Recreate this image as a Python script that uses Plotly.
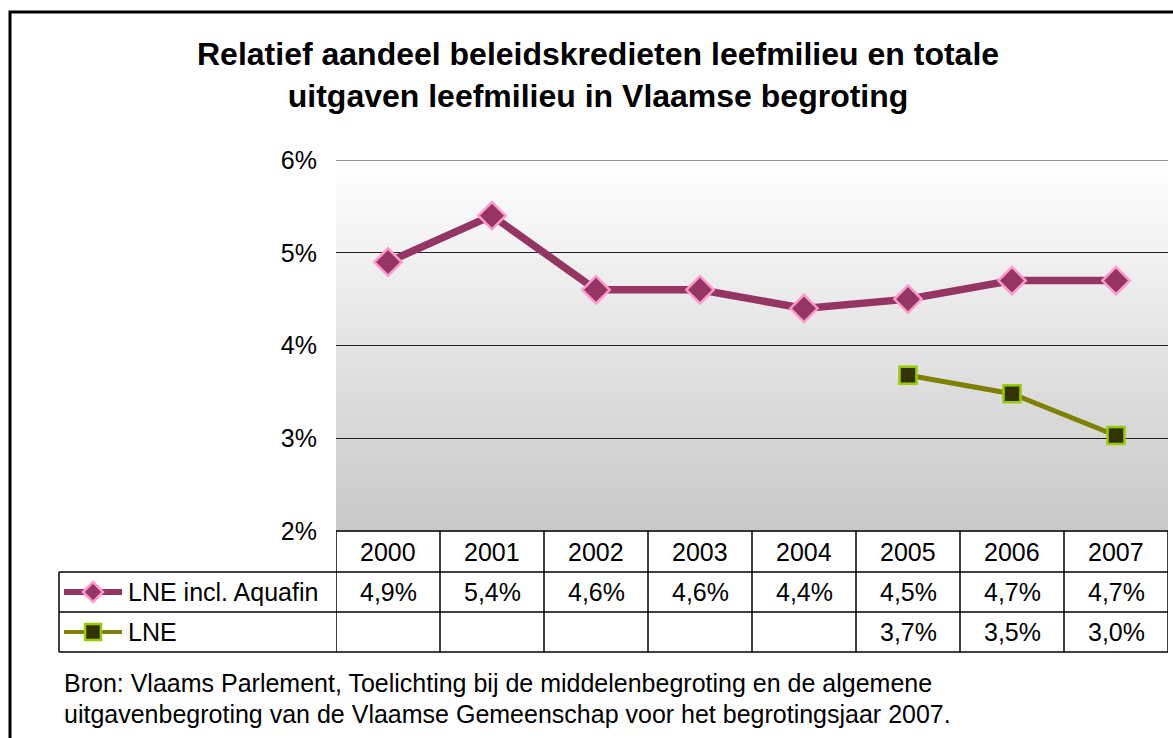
import plotly.graph_objects as go

# ---- data ----
years = ["2000", "2001", "2002", "2003", "2004", "2005", "2006", "2007"]
lne_aquafin = [4.9, 5.4, 4.6, 4.6, 4.4, 4.5, 4.7, 4.7]
lne = [None, None, None, None, None, 3.68, 3.48, 3.03]
series_names = ["LNE incl. Aquafin", "LNE"]
y_ticks = [2, 3, 4, 5, 6]
title_text = "Relatief aandeel beleidskredieten leefmilieu en totale<br>uitgaven leefmilieu in Vlaamse begroting"
source_lines = [
    "Bron: Vlaams Parlement, Toelichting bij de middelenbegroting en de algemene",
    "uitgavenbegroting van de Vlaamse Gemeenschap voor het begrotingsjaar 2007.",
]

W, H = 1173, 738
FONT = "Liberation Sans, Arial, sans-serif"


def px(x):
    return x / W


def py(y):
    return 1 - y / H


PL, PR, PT, PB = 336, 1168, 160, 531
ROW = [531, 572, 612, 652]
LEG_X = 59

PURPLE = "#953563"
PINK = "#ff99cc"
OLIVE = "#808000"
DARK = "#333300"
LIME = "#99cc00"


def fmt(v):
    return "" if v is None else f"{v:.1f}%".replace(".", ",")


fig = go.Figure()
fig.add_trace(go.Scatter(
    x=years, y=lne_aquafin, mode="lines+markers", name=series_names[0],
    line=dict(color=PURPLE, width=7.5),
    marker=dict(symbol="diamond", size=21, color=PURPLE, line=dict(color=PINK, width=2.5)),
    showlegend=False, cliponaxis=False, hoverinfo="skip",
))
fig.add_trace(go.Scatter(
    x=years, y=lne, mode="lines+markers", name=series_names[1],
    line=dict(color=OLIVE, width=5),
    marker=dict(symbol="square", size=17, color=DARK, line=dict(color=LIME, width=2.5)),
    showlegend=False, cliponaxis=False, connectgaps=False, hoverinfo="skip",
))

shapes = []
# gradient plot background
N = 90
c0, c1 = 255, 200
for i in range(N):
    t = (i + 0.5) / N
    c = round(c0 + (c1 - c0) * t)
    shapes.append(dict(type="rect", xref="x domain", yref="y domain",
                       x0=0, x1=1, y0=1 - i / N, y1=1 - (i + 1) / N - 0.002,
                       fillcolor=f"rgb({c},{c},{c})", line=dict(width=0), layer="below"))
# top gridline (6%)
shapes.append(dict(type="line", xref="x domain", yref="y", x0=0, x1=1,
                   y0=y_ticks[-1], y1=y_ticks[-1], line=dict(color="#6e6e6e", width=1.5)))

# outer frame
shapes.append(dict(type="rect", xref="paper", yref="paper",
                   x0=px(10), x1=px(1200), y0=py(12), y1=py(760),
                   line=dict(color="black", width=3), fillcolor="rgba(0,0,0,0)", layer="above"))

LC = "black"
LW = 1.5
# table horizontal lines
shapes.append(dict(type="line", xref="paper", yref="paper", x0=px(PL), x1=px(PR),
                   y0=py(ROW[0]), y1=py(ROW[0]), line=dict(color=LC, width=LW)))
for r in ROW[1:]:
    shapes.append(dict(type="line", xref="paper", yref="paper", x0=px(LEG_X), x1=px(PR),
                       y0=py(r), y1=py(r), line=dict(color=LC, width=LW)))
shapes.append(dict(type="line", xref="paper", yref="paper", x0=px(LEG_X), x1=px(LEG_X),
                   y0=py(ROW[1]), y1=py(ROW[3]), line=dict(color=LC, width=LW)))
for i in range(len(years) + 1):
    shapes.append(dict(type="line", xref="x", yref="paper", x0=i - 0.5, x1=i - 0.5,
                       y0=py(ROW[0]), y1=py(ROW[3]), line=dict(color=LC, width=LW)))

# legend keys
ly1 = (ROW[1] + ROW[2]) / 2
ly2 = (ROW[2] + ROW[3]) / 2
shapes.append(dict(type="line", xref="paper", yref="paper", x0=px(64), x1=px(122),
                   y0=py(ly1), y1=py(ly1), line=dict(color=PURPLE, width=6)))
cx = 93
d = 10
shapes.append(dict(type="path", xref="paper", yref="paper",
                   path=f"M {px(cx - d)} {py(ly1)} L {px(cx)} {py(ly1 - d)} L {px(cx + d)} {py(ly1)} L {px(cx)} {py(ly1 + d)} Z",
                   fillcolor=PURPLE, line=dict(color=PINK, width=2.5)))
shapes.append(dict(type="line", xref="paper", yref="paper", x0=px(64), x1=px(122),
                   y0=py(ly2), y1=py(ly2), line=dict(color=OLIVE, width=4)))
s = 8
shapes.append(dict(type="rect", xref="paper", yref="paper",
                   x0=px(cx - s), x1=px(cx + s), y0=py(ly2 - s), y1=py(ly2 + s),
                   fillcolor=DARK, line=dict(color=LIME, width=2.5)))

annotations = []
TF = dict(family=FONT, size=25, color="black")
for i, yr in enumerate(years):
    annotations.append(dict(x=i, xref="x", y=py((ROW[0] + ROW[1]) / 2), yref="paper",
                            text=yr, showarrow=False, font=TF, xanchor="center", yanchor="middle"))
    annotations.append(dict(x=i, xref="x", y=py(ly1), yref="paper",
                            text=fmt(lne_aquafin[i]), showarrow=False, font=TF, xanchor="center", yanchor="middle"))
    if lne[i] is not None:
        annotations.append(dict(x=i, xref="x", y=py(ly2), yref="paper",
                                text=fmt(lne[i]), showarrow=False, font=TF, xanchor="center", yanchor="middle"))
annotations.append(dict(x=px(126), xref="paper", y=py(ly1), yref="paper", text=series_names[0],
                        showarrow=False, font=TF, xanchor="left", yanchor="middle"))
annotations.append(dict(x=px(126), xref="paper", y=py(ly2), yref="paper", text=series_names[1],
                        showarrow=False, font=TF, xanchor="left", yanchor="middle"))
# title
annotations.append(dict(x=px(598), xref="paper", y=py(75), yref="paper", text=title_text,
                        showarrow=False, font=dict(family=FONT, size=32, color="black", weight="bold"),
                        xanchor="center", yanchor="middle", align="center"))
# source
SF = dict(family=FONT, size=25, color="black")
annotations.append(dict(x=px(62), xref="paper", y=py(683), yref="paper", text=source_lines[0],
                        showarrow=False, font=SF, xanchor="left", yanchor="middle"))
annotations.append(dict(x=px(62), xref="paper", y=py(714), yref="paper", text=source_lines[1],
                        showarrow=False, font=SF, xanchor="left", yanchor="middle"))

fig.update_layout(
    template="none",
    width=W, height=H,
    margin=dict(l=0, r=0, t=0, b=0, pad=0, autoexpand=False),
    paper_bgcolor="white", plot_bgcolor="rgba(0,0,0,0)",
    shapes=shapes, annotations=annotations,
    xaxis=dict(domain=[px(PL), px(PR)], type="category", range=[-0.5, len(years) - 0.5],
               showticklabels=False, showgrid=False, zeroline=False, showline=False, ticks="",
               automargin=False),
    yaxis=dict(domain=[py(PB), py(PT)], range=[2, 6], tickvals=y_ticks,
               ticktext=[f"{v}%" for v in y_ticks],
               showgrid=True, gridcolor="#222222", gridwidth=1, zeroline=False, showline=False,
               ticks="", ticklabelstandoff=18, automargin=False,
               tickfont=dict(family=FONT, size=25, color="black")),
    showlegend=False,
)

fig.write_html("out.html", config={"displayModeBar": False},
               post_script="document.body.style.margin='0';document.body.style.overflow='hidden';")
